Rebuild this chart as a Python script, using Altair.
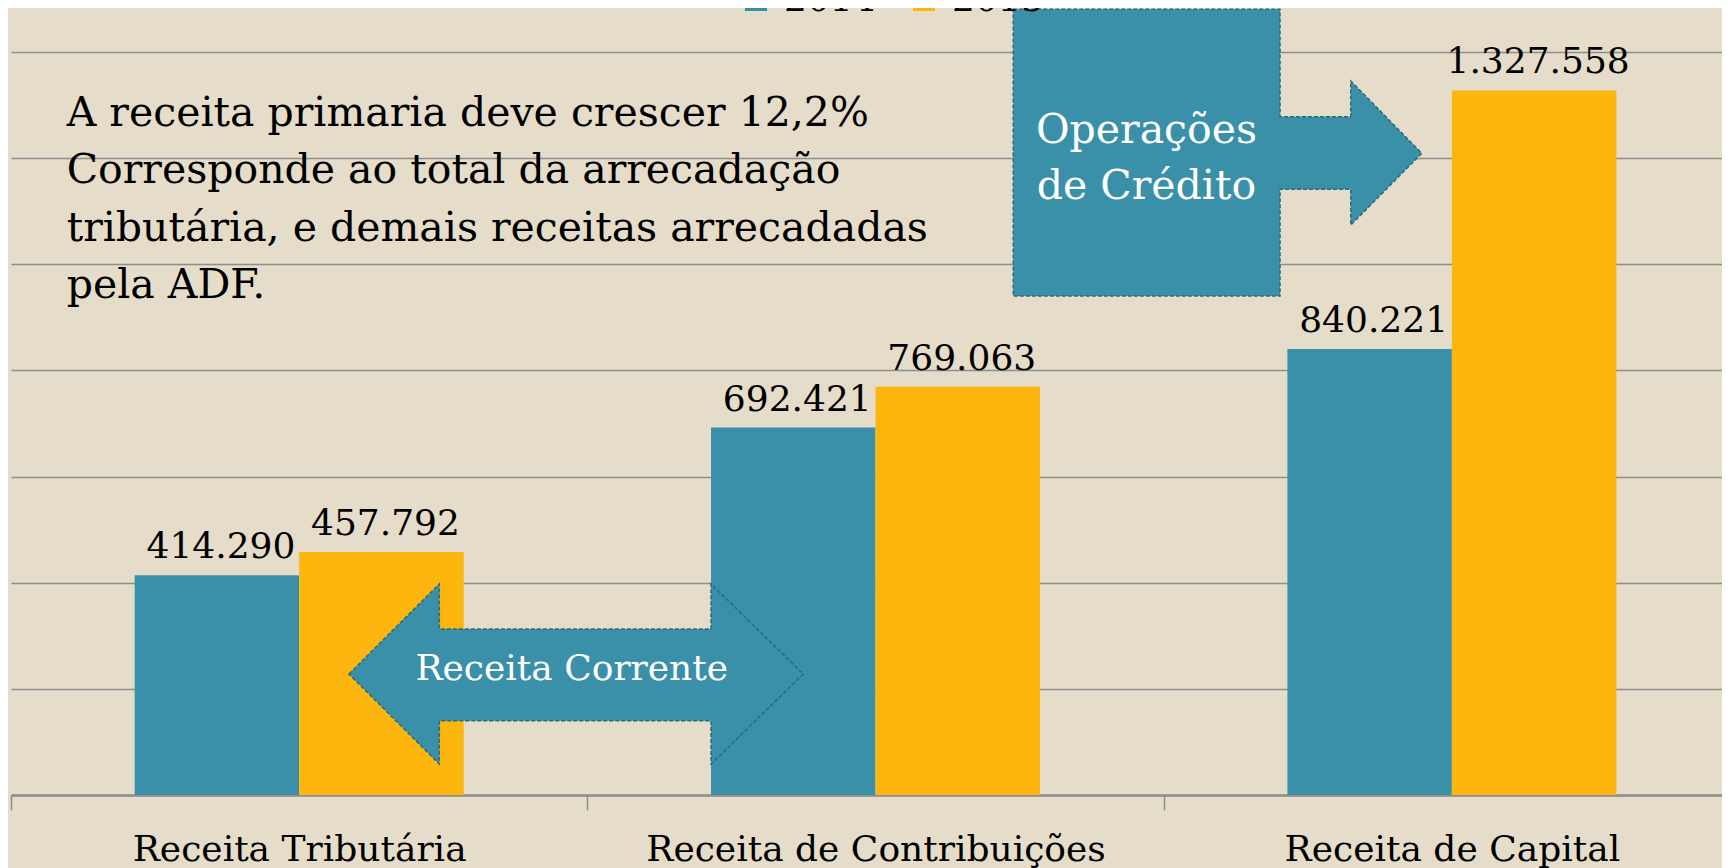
import altair as alt
import pandas as pd

# ---------------- data ----------------
categories = ["Receita Tributária", "Receita de Contribuições", "Receita de Capital"]
years = ["2014", "2015"]
values_2014 = [414290, 692421, 840221]
values_2015 = [457792, 769063, 1327558]
grid_values = [0, 200000, 400000, 600000, 800000, 1000000, 1200000, 1400000]

# annotation shapes, in data units: x in category units (0..3), y in value units
arrow_rc_u = [0.5864, 0.7431, 0.7432, 1.2146, 1.2147, 1.3747]
arrow_rc_top = [228000, 397600, 312800, 312800, 397600, 228000]
arrow_rc_bottom = [228000, 58400, 140000, 140000, 58400, 228000]

box_op_u = [1.739, 2.2018, 2.2019, 2.3245, 2.3246, 2.4477]
box_op_top = [1480500, 1480500, 1278100, 1278100, 1345400, 1209100]
box_op_bottom = [940200, 940200, 1141300, 1141300, 1074000, 1209100]

note_texts = [
    "A receita primaria deve crescer 12,2%\nCorresponde ao total da arrecadação\ntributária, e demais receitas arrecadadas\npela ADF.",
]
note_u = [0.0966]
note_v = [1261100]

op_text = ["Operações\nde Crédito"]
op_u = [1.9701]
op_v = [1229100]

rc_text = ["Receita Corrente"]
rc_u = [0.9729]
rc_v = [216700]

# ---------------- styles / layout ----------------
BG = "#E5DDC9"
TEAL = "#3A90A8"
ORANGE = "#FDB60D"
OUTLINE = "#2C6A7C"
GRID = "#8E8E8E"
FONT = "DejaVu Serif"
BAR_W = 0.2854          # bar width as a fraction of one category slot
PLOT_W = 1711
X_EXTENT = PLOT_W / 576.35   # visible part of the 3 category slots

rows = []
for i, (c, a, b) in enumerate(zip(categories, values_2014, values_2015)):
    rows.append({"cat": c, "idx": i, "year": "2014", "yidx": 0, "value": a})
    rows.append({"cat": c, "idx": i, "year": "2015", "yidx": 1, "value": b})
bars_df = pd.DataFrame(rows)
bars_df["label"] = bars_df["value"].map(lambda v: f"{v:,}".replace(",", "."))

shape_rows = []
for u, t, b in zip(arrow_rc_u, arrow_rc_top, arrow_rc_bottom):
    shape_rows.append({"shape": "rc", "u": u, "top": t, "bottom": b})
for u, t, b in zip(box_op_u, box_op_top, box_op_bottom):
    shape_rows.append({"shape": "op", "u": u, "top": t, "bottom": b})
shapes_df = pd.DataFrame(shape_rows)

yscale = alt.Scale(domain=[0, 1400000], nice=False, zero=True, padding=0)
yaxis = alt.Axis(values=grid_values, labels=False, ticks=False, domain=False,
                 title=None, grid=True, gridColor=GRID, gridWidth=1.5)
xscale = alt.Scale(domain=[0, X_EXTENT], nice=False, zero=False, padding=0)

tick_vals = [0, 0.5, 1, 1.5, 2, 2.5]
label_expr = " : ".join(
    f"datum.value == {i + 0.5} ? '{c}'" for i, c in enumerate(categories)
) + " : ''"

xaxis = alt.Axis(
    values=tick_vals, labelExpr=label_expr, title=None, labelAngle=0,
    labelFont=FONT, labelFontSize=36, labelColor="#000000",
    labelBaseline="alphabetic", labelPadding=50, labelFlush=False,
    labelOverlap=False, labelBound=False, labelLimit=0,
    tickSize=15, tickColor=GRID, tickWidth=1.5,
    tickOpacity={"condition": {"test": "datum.value % 1 != 0", "value": 0}, "value": 1},
    domainColor=GRID, domainWidth=2.5, grid=False,
)

base = alt.Chart(bars_df).transform_calculate(
    x0=f"datum.idx + 0.5 + (datum.yidx - 1) * {BAR_W}",
).transform_calculate(
    x1=f"datum.x0 + {BAR_W}",
    xc=f"datum.x0 + {BAR_W / 2}",
)

bars = base.mark_rect().encode(
    x=alt.X("x0:Q", scale=xscale, axis=xaxis),
    x2="x1:Q",
    y=alt.Y("value:Q", scale=yscale, axis=yaxis),
    y2=alt.datum(0),
    color=alt.Color("year:N", scale=alt.Scale(domain=years, range=[TEAL, ORANGE]),
                    legend=alt.Legend(orient="none", legendX=727, legendY=-70,
                                      direction="horizontal", title=None,
                                      labelFont=FONT, labelFontSize=36,
                                      labelColor="#000000", symbolType="square",
                                      symbolSize=484, symbolStrokeWidth=0,
                                      labelOffset=10, columnPadding=30, padding=0)),
)

bar_labels = base.mark_text(font=FONT, fontSize=36, color="#000000",
                            baseline="alphabetic", dy=-17, dx=4).encode(
    x=alt.X("xc:Q", scale=xscale, axis=None),
    y=alt.Y("value:Q", scale=yscale, axis=yaxis),
    text="label:N",
)

shapes = alt.Chart(shapes_df).mark_area(
    fill=TEAL, fillOpacity=1, opacity=1, stroke=OUTLINE, strokeWidth=1.5,
    strokeDash=[4, 2], interpolate="linear"
).encode(
    x=alt.X("u:Q", scale=xscale, axis=None),
    y=alt.Y("top:Q", scale=yscale, axis=yaxis),
    y2="bottom:Q",
    detail="shape:N",
)

note = alt.Chart(pd.DataFrame({"t": note_texts, "u": note_u, "v": note_v})).mark_text(
    font=FONT, fontSize=41, color="#000000", align="left", baseline="alphabetic",
    lineBreak="\n", lineHeight=57.5
).encode(
    x=alt.X("u:Q", scale=xscale, axis=None),
    y=alt.Y("v:Q", scale=yscale, axis=yaxis),
    text="t:N",
)

op_label = alt.Chart(pd.DataFrame({"t": op_text, "u": op_u, "v": op_v})).mark_text(
    font=FONT, fontSize=41, color="#FFFFFF", align="center", baseline="alphabetic",
    lineBreak="\n", lineHeight=56.7
).encode(
    x=alt.X("u:Q", scale=xscale, axis=None),
    y=alt.Y("v:Q", scale=yscale, axis=yaxis),
    text="t:N",
)

rc_label = alt.Chart(pd.DataFrame({"t": rc_text, "u": rc_u, "v": rc_v})).mark_text(
    font=FONT, fontSize=36, color="#FFFFFF", align="center", baseline="alphabetic"
).encode(
    x=alt.X("u:Q", scale=xscale, axis=None),
    y=alt.Y("v:Q", scale=yscale, axis=yaxis),
    text="t:N",
)

chart = alt.layer(bars, bar_labels, shapes, note, op_label, rc_label).resolve_scale(
    x="independent"
).resolve_axis(x="independent").properties(
    width=PLOT_W, height=743,
    autosize=alt.AutoSizeParams(type="none"),
    padding={"left": 3, "top": 44, "right": 0, "bottom": 73},
    background=BG,
).configure_view(stroke=None)

chart.save("out.html", embed_options={"renderer": "svg", "actions": False})
